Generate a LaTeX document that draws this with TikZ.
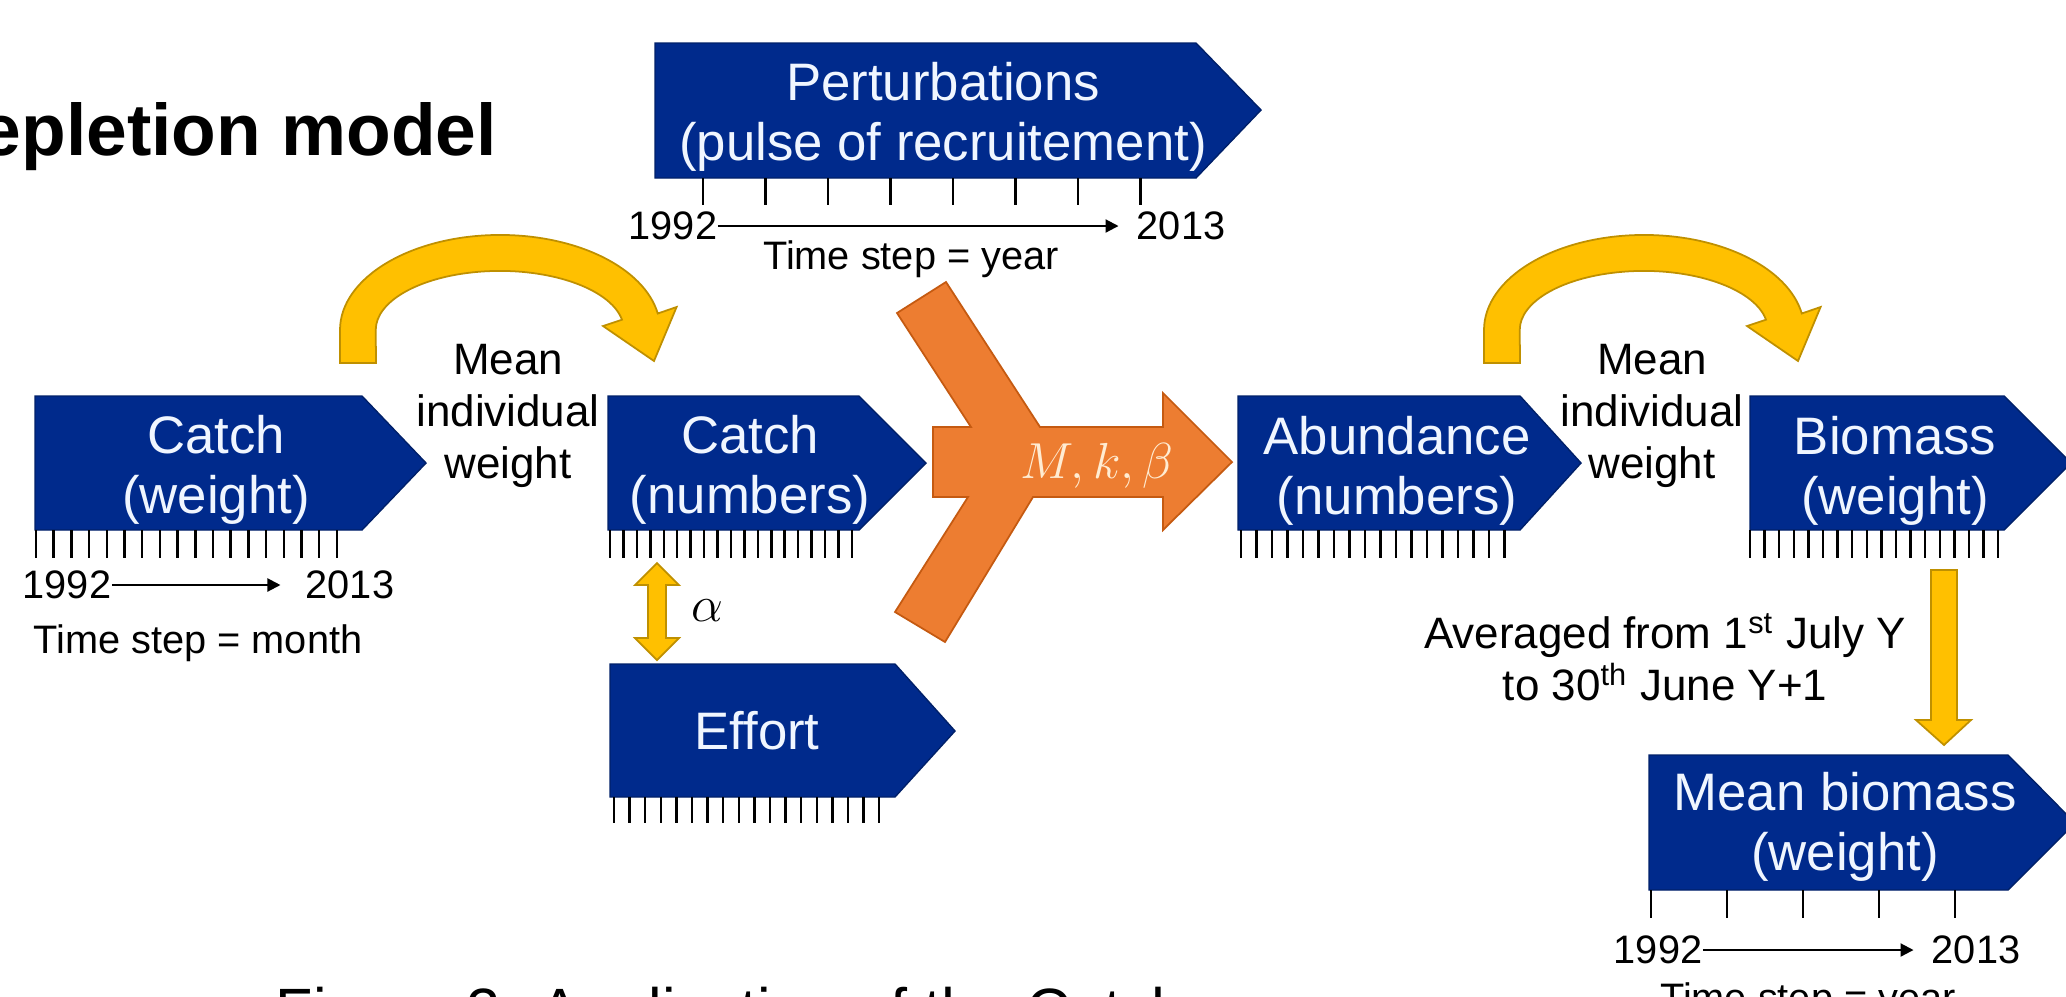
\documentclass[tikz,border=0pt]{standalone}
\usepackage{fontspec}
\setmainfont{Liberation Sans}
\usetikzlibrary{arrows.meta}
\definecolor{boxblue}{RGB}{0,42,140}
\definecolor{labelwhite}{RGB}{240,246,255}
\definecolor{gold}{RGB}{255,192,0}
\definecolor{golddark}{RGB}{191,144,0}
\definecolor{orng}{RGB}{237,125,49}
\definecolor{orngdark}{RGB}{197,90,17}
\definecolor{cream}{RGB}{255,236,210}
\tikzset{
  font={\fontsize{15pt}{17pt}\selectfont},
  bluebox/.style={fill=boxblue, draw=boxblue!75!black, line width=0.4pt},
  boxtext/.style={text=labelwhite, align=center, font={\fontsize{15pt}{17pt}\selectfont}},
  notetext/.style={align=center, font={\fontsize{12.5pt}{14.8pt}\selectfont}},
  yeartext/.style={font={\fontsize{11.3pt}{13pt}\selectfont}},
  titletext/.style={font={\fontsize{20.8pt}{24pt}\selectfont\bfseries}},
  tickmark/.style={black, line width=0.7pt},
  timeline/.style={black, line width=0.6pt, -{Triangle[length=3.7pt,width=3.7pt]}, shorten >=5pt},
  goldarrow/.style={fill=gold, draw=golddark, line width=0.5pt},
  orngarrow/.style={fill=orng, draw=orngdark, line width=0.5pt}}

\begin{document}
\begin{tikzpicture}[x=0.01cm, y=-0.01cm]
\tikzstyle{every node}+=[inner sep=0pt]
\useasboundingbox (0,0) rectangle (2066,996);
\clip (0,0) rectangle (2066,996);
% heading and caption, both cut by the frame
\draw (-20,155) node[anchor=base west, titletext] (title) {epletion model};
\draw (275,1031) node[anchor=base west, font={\fontsize{17.4pt}{20pt}\selectfont}] (caption) {Figure 2: Application of the Catch};

% blue boxes
\draw [bluebox] (655,43) -- (1196,43) -- (1261,110) -- (1196,178) -- (655,178) -- cycle;
\draw [bluebox] (35,396) -- (362,396) -- (426,463) -- (362,530) -- (35,530) -- cycle;
\draw [bluebox] (608,396) -- (859,396) -- (926,463) -- (859,530) -- (608,530) -- cycle;
\draw [bluebox] (610,664) -- (895,664) -- (955,731) -- (895,797) -- (610,797) -- cycle;
\draw [bluebox] (1238,396) -- (1520,396) -- (1581,463) -- (1520,530) -- (1238,530) -- cycle;
\draw [bluebox] (1750,396) -- (2004,396) -- (2071,463) -- (2004,530) -- (1750,530) -- cycle;
\draw [bluebox] (1649,755) -- (2008,755) -- (2075,823) -- (2008,890) -- (1649,890) -- cycle;
\draw (943,117) node[boxtext] (pert) {Perturbations\\(pulse of recruitement)};
\draw (216,470) node[boxtext] (catchw) {Catch\\(weight)};
\draw (750,470) node[boxtext] (catchn) {Catch\\(numbers)};
\draw (757,731) node[boxtext] (effort) {Effort};
\draw (1397,471) node[boxtext] (abund) {Abundance\\(numbers)};
\draw (1895,471) node[boxtext] (biom) {Biomass\\(weight)};
\draw (1845,827) node[boxtext] (meanb) {Mean biomass\\(weight)};

% ticks under the boxes
\foreach \i in {0,...,7} \draw [tickmark] ({703+62.5*\i},178) -- ++(0,27);
\foreach \i in {0,...,17} \draw [tickmark] ({36+17.7*\i},530) -- ++(0,28);
\foreach \i in {0,...,18} \draw [tickmark] ({610+13.44*\i},530) -- ++(0,28);
\foreach \i in {0,...,17} \draw [tickmark] ({614+15.6*\i},797) -- ++(0,26);
\foreach \i in {0,...,17} \draw [tickmark] ({1241+15.5*\i},530) -- ++(0,28);
\foreach \i in {0,...,17} \draw [tickmark] ({1750+14.6*\i},530) -- ++(0,28);
\foreach \i in {0,...,4} \draw [tickmark] ({1651+76*\i},890) -- ++(0,28);

% time axes
\draw (673,226) node[yeartext] (pstart) {1992};
\draw (1181,226) node[yeartext] (pend) {2013};
\draw [timeline] (pstart) -- (pend);
\draw (911,259) node[yeartext] (pstep) {Time step = year};
\draw (67,585) node[yeartext] (cstart) {1992};
\draw (350,585) node[yeartext] (cend) {2013};
\draw [timeline, shorten >=7pt] (cstart) -- (cend);
\draw (198,643) node[yeartext] (cstep) {Time step = month};
\draw (1658,950) node[yeartext] (mstart) {1992};
\draw (1976,950) node[yeartext] (mend) {2013};
\draw [timeline] (mstart) -- (mend);
\draw (1808,1001) node[yeartext] (mstep) {Time step = year};

% curved arrows for the mean weight
\foreach \dx in {0,1144}
  \draw [goldarrow, shift={(\dx,0)}] (340,363) -- (340,330)
    arc[start angle=180, end angle=10, x radius=1.6cm, y radius=0.95cm]
    -- (676.6,307) -- (654,361) -- (603,326) -- (622,319.7)
    arc[start angle=10, end angle=180, x radius=1.24cm, y radius=0.59cm]
    -- (376,363) -- cycle;
\draw (508,416) node[notetext] (mwleft) {Mean\\individual\\weight};
\draw (1652,416) node[notetext] (mwright) {Mean\\individual\\weight};

% catch <-> effort
\draw [goldarrow] (657,563) -- (679,585) -- (666,585) -- (666,638) -- (679,638)
  -- (657,660) -- (635,638) -- (648,638) -- (648,585) -- (635,585) -- cycle;
\draw (707,611) node[font={\fontsize{15pt}{17pt}\selectfont}] (alpha) {$\alpha$};

% merging arrow
\draw [orngarrow] (897,313) -- (946,282) -- (1040,427) -- (1163,427) -- (1163,393)
  -- (1232,462) -- (1163,530) -- (1163,497) -- (1033,497) -- (945,642) -- (895,612)
  -- (968,497) -- (933,497) -- (933,427) -- (971,427) -- cycle;
\draw (1097,466) node[text=cream, font={\fontsize{14pt}{16pt}\selectfont}] (params) {$M,k,\beta$};

% averaging
\draw [goldarrow] (1931,570) -- (1957,570) -- (1957,720) -- (1971,720) -- (1944,745)
  -- (1916,720) -- (1931,720) -- cycle;
\draw (1665,657) node[notetext] (avg) {Averaged from 1\textsuperscript{st} July Y\\to 30\textsuperscript{th} June Y+1};
\end{tikzpicture}
\end{document}
